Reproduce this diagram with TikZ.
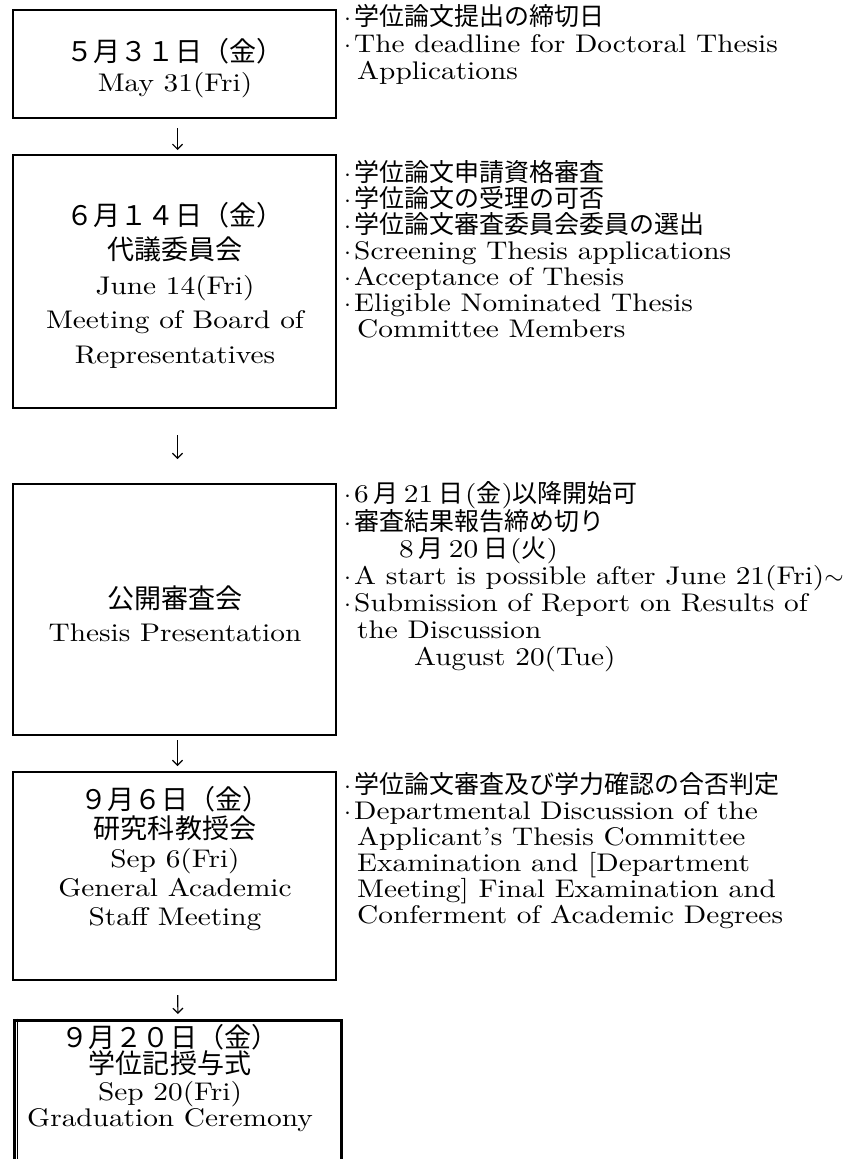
\documentclass[tikz,border=0pt]{standalone}
\usepackage{fontspec}
\setmainfont{lmroman10-regular.otf}[FakeStretch=1.15]
\newfontfamily\jpfont{Noto Sans CJK JP}[Scale=0.98]
\newfontfamily\jpbigfont{Noto Sans CJK JP}[Scale=1.06]
\newcommand\jp[1]{{\jpfont #1}}
\newcommand\jb[1]{{\jpbigfont #1}}
\newcommand\itm{\makebox[11pt][l]{\hspace*{1pt}$\cdot$}}
\newcommand\cnt{\hspace*{14pt}}
\usetikzlibrary{arrows.meta,positioning}
\tikzset{
  >={Straight Barb[length=5pt,width=10pt]},
  datebox/.style={draw,line width=2pt,minimum width=323pt,inner sep=0pt},
  boxtxt/.style={align=center,inner sep=0pt,font=\fontsize{25.5}{#1}\selectfont},
  note/.style={align=left,anchor=north west,inner sep=0pt,font=\fontsize{25.5}{#1}\selectfont},
  flow/.style={->,line width=1.2pt},
}
\begin{document}
\begin{tikzpicture}[x=1pt,y=-1pt]
\useasboundingbox (0,0) rectangle (863,1159);
\clip (0,0) rectangle (863,1159);

% boxes of the time line
\node[datebox,minimum height=108pt] (d1) at (174.5,64) {};
\node[datebox,minimum height=253pt] (d2) at (174.5,281.5) {};
\node[datebox,minimum height=251pt] (d3) at (174.5,609.5) {};
\node[datebox,minimum height=208pt] (d4) at (174.5,876) {};
\node[datebox,line width=3pt,minimum width=327pt,minimum height=160pt] (d5) at (177.5,1100) {};
\draw[line width=1pt] ([xshift=4.5pt]d5.north west) -- ([xshift=4.5pt]d5.south west);

\node[boxtxt=30pt] (t1) at (175,68) {\jb{５月３１日（金）}\\May 31(Fri)};
\node[boxtxt=34.5pt] (t2) at (175,285) {\jb{６月１４日（金）}\\\jb{代議委員会}\\June 14(Fri)\\Meeting of Board of\\Representatives};
\node[boxtxt=33pt] (t3) at (175,614) {\jb{公開審査会}\\Thesis Presentation};
\node[boxtxt=29pt] (t4) at (175,859) {\jb{９月６日（金）}\\\jb{研究科教授会}\\Sep 6(Fri)\\General Academic\\Staff Meeting};
\node[boxtxt=26.5pt] (t5) at (170,1078) {\jb{９月２０日（金）}\\\jb{学位記授与式}\\Sep 20(Fri)\\Graduation Ceremony};

% arrows
\draw[flow,shorten <=9pt,shorten >=4pt] ([xshift=3pt]d1.south) -- ([xshift=3pt]d2.north);
\draw[flow,shorten <=26pt,shorten >=24pt] ([xshift=3pt]d2.south) -- ([xshift=3pt]d3.north);
\draw[flow,shorten <=4pt,shorten >=5pt] ([xshift=3pt]d3.south) -- ([xshift=3pt]d4.north);
\draw[flow,shorten <=14pt,shorten >=4.5pt] ([xshift=3pt]d4.south) -- ([xshift=0.5pt]d5.north);

% notes on the right
\node[note=27pt] (n1) at (343,4) {\itm\jp{学位論文提出の締切日}\\
\itm The deadline for Doctoral Thesis\\
\cnt Applications};
\node[note=26pt] (n2) at (343,160) {\itm\jp{学位論文申請資格審査}\\
\itm\jp{学位論文の受理の可否}\\
\itm\jp{学位論文審査委員会委員の選出}\\
\itm Screening Thesis applications\\
\itm Acceptance of Thesis\\
\itm Eligible Nominated Thesis\\
\cnt Committee Members};
\node[note=27pt] (n3) at (343,481) {\itm 6\hspace{5pt}\jp{月}\hspace{5pt}21\hspace{5pt}\jp{日}\hspace{2pt}(\jp{金})\jp{以降開始可}\\
\itm\jp{審査結果報告締め切り}\\
\hspace*{56pt}8\hspace{5pt}\jp{月}\hspace{5pt}20\hspace{5pt}\jp{日}\hspace{2pt}(\jp{火})\\
\itm A start is possible after June 21(Fri)$\sim$\\
\itm Submission of Report on Results of\\
\cnt the Discussion\\
\hspace*{71pt}August 20(Tue)};
\node[note=26pt] (n4) at (343,772) {\itm\jp{学位論文審査及び学力確認の合否判定}\\
\itm Departmental Discussion of the\\
\cnt Applicant's Thesis Committee\\
\cnt Examination and [Department\\
\cnt Meeting] Final Examination and\\
\cnt Conferment of Academic Degrees};

\end{tikzpicture}
\end{document}
